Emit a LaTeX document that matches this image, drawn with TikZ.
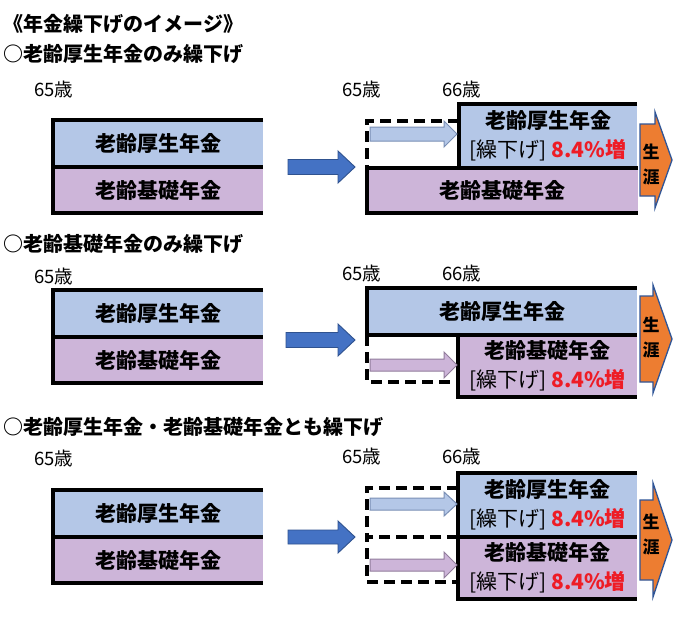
\documentclass[tikz,border=0pt]{standalone}
\usepackage{fontspec}
\setmainfont{Noto Sans CJK JP}
\definecolor{kblue}{HTML}{B4C7E7}
\definecolor{kpurp}{HTML}{CDB5D9}
\definecolor{abody}{HTML}{4472C4}
\definecolor{aedge}{HTML}{2F528F}
\definecolor{oran}{HTML}{ED7D31}
\definecolor{oedge}{HTML}{2F5597}
\definecolor{tbedge}{HTML}{7A8FB5}
\definecolor{tpedge}{HTML}{927D9C}
\definecolor{redt}{HTML}{EE1C25}
\newcommand\ArrowPoly[7]{\draw[#1] (#2,#4-#5) -- (#3-#7,#4-#5) -- (#3-#7,#4-#6) -- (#3,#4) -- (#3-#7,#4+#6) -- (#3-#7,#4+#5) -- (#2,#4+#5) -- cycle;}
\newcommand\Up{{\mdseries\color{black}{[}繰下げ{]}}\hspace{5pt}{\color{redt}8.4\%増}}
\begin{document}
\begin{tikzpicture}[x=1pt,y=-1pt,
  every node/.style={inner sep=0pt, outer sep=0pt},
  boxtext/.style={font=\bfseries\fontsize{21}{29}\selectfont, align=center, anchor=north west},
  kosei/.style={boxtext, fill=kblue},
  kiso/.style={boxtext, fill=kpurp},
  edge/.style={line width=3.2pt, line join=miter},
  dashedge/.style={line width=3.2pt, dash pattern=on 11pt off 6pt},
  heading/.style={font=\bfseries\fontsize{20}{24}\selectfont, anchor=west},
  age/.style={font=\fontsize{18.5}{22}\selectfont, anchor=west},
  bigarr/.style={fill=abody, draw=aedge, line width=0.9pt},
  orarr/.style={fill=oran, draw=oedge, line width=1.3pt},
  thinb/.style={fill=kblue, draw=tbedge, line width=1pt},
  thinp/.style={fill=kpurp, draw=tpedge, line width=1pt},
  life/.style={font=\bfseries\fontsize{17}{25}\selectfont, align=center},
]
\useasboundingbox (0,0) rectangle (680,616);
\fill[white] (0,0) rectangle (680,616);

\node[heading] (title) at (4,24) {《年金繰下げのイメージ》};

% ---------------- Section 1 ----------------
\node[heading] (h1) at (3,54) {○老齢厚生年金のみ繰下げ};
\node[age] (a1l) at (34,89) {65歳};
\node[age] (a1r) at (342,89) {65歳};
\node[age] (b1r) at (442,89) {66歳};

\node[kosei, minimum width=210, minimum height=47] (L1a) at (53,120) {老齢厚生年金};
\node[kiso, minimum width=210, minimum height=46] (L1b) at (53,167) {老齢基礎年金};
\draw[edge] (L1a.north east) -- (L1a.north west) -- (L1b.south west) -- (L1b.south east);
\draw[edge] (L1a.south west) -- (L1a.south east);

\ArrowPoly{bigarr}{288}{355}{167}{7.5}{16}{17}

\node[kosei, minimum width=178, minimum height=64] (R1a) at (459,104) {老齢厚生年金\\\Up};
\node[kiso, minimum width=271, minimum height=45] (R1b) at (367,168) {老齢基礎年金};
\draw[edge] (R1a.north east) -- (R1a.north west) -- (R1a.south west);
\draw[edge] (R1b.north east) -- (R1b.north west) -- (R1b.south west) -- (R1b.south east);
\coordinate (D1) at (367,121);
\draw[dashedge] (R1a.west |- D1) -- (D1) -- (D1 |- R1b.north);
\ArrowPoly{thinb}{370}{457}{134}{7}{13}{13}

\ArrowPoly{orarr}{640}{672}{160}{36}{48}{17}
\node[life] (s1) at (651,165) {生\\涯};

% ---------------- Section 2 ----------------
\node[heading] (h2) at (3,244) {○老齢基礎年金のみ繰下げ};
\node[age] (a2l) at (34,276) {65歳};
\node[age] (a2r) at (342,273) {65歳};
\node[age] (b2r) at (442,273) {66歳};

\node[kosei, minimum width=210, minimum height=47] (L2a) at (53,290) {老齢厚生年金};
\node[kiso, minimum width=210, minimum height=46] (L2b) at (53,337) {老齢基礎年金};
\draw[edge] (L2a.north east) -- (L2a.north west) -- (L2b.south west) -- (L2b.south east);
\draw[edge] (L2a.south west) -- (L2a.south east);

\ArrowPoly{bigarr}{286}{355}{340}{7.5}{16}{17}

\node[kosei, minimum width=270, minimum height=47] (R2a) at (367,288) {老齢厚生年金};
\node[kiso, minimum width=179, minimum height=62] (R2b) at (458,335) {老齢基礎年金\\\Up};
\draw[edge] (R2a.north east) -- (R2a.north west) -- (R2a.south west) -- (R2a.south east);
\draw[edge] (R2b.north west) -- (R2b.south west) -- (R2b.south east);
\coordinate (D2) at (367,382);
\draw[dashedge] (D2 |- R2a.south) -- (D2) -- (R2b.west |- D2);
\ArrowPoly{thinp}{370}{457}{365}{6}{13}{13}

\ArrowPoly{orarr}{640}{672}{339}{43}{54}{19}
\node[life] (s2) at (651,338) {生\\涯};

% ---------------- Section 3 ----------------
\node[heading] (h3) at (3,427) {○老齢厚生年金・老齢基礎年金とも繰下げ};
\node[age] (a3l) at (34,458) {65歳};
\node[age] (a3r) at (342,456) {65歳};
\node[age] (b3r) at (442,456) {66歳};

\node[kosei, minimum width=210, minimum height=47] (L3a) at (53,490) {老齢厚生年金};
\node[kiso, minimum width=210, minimum height=46] (L3b) at (53,537) {老齢基礎年金};
\draw[edge] (L3a.north east) -- (L3a.north west) -- (L3b.south west) -- (L3b.south east);
\draw[edge] (L3a.south west) -- (L3a.south east);

\ArrowPoly{bigarr}{288}{355}{537}{7}{16}{17}

\node[kosei, minimum width=179, minimum height=64] (R3a) at (458,473) {老齢厚生年金\\\Up};
\node[kiso, minimum width=179, minimum height=62] (R3b) at (458,537) {老齢基礎年金\\\Up};
\draw[edge] (R3a.north east) -- (R3a.north west) -- (R3b.south west) -- (R3b.south east);
\draw[edge] (R3a.south west) -- (R3a.south east);
\coordinate (D3) at (367,488);
\coordinate (D4) at (367,537);
\coordinate (D5) at (367,582);
\draw[dashedge] (R3a.west |- D3) -- (D3) -- (D4);
\draw[dashedge] (R3b.west |- D4) -- (D4) -- (D5) -- (R3b.west |- D5);
\ArrowPoly{thinb}{370}{457}{504}{6}{12}{13}
\ArrowPoly{thinp}{370}{457}{565}{6}{13}{13}

\ArrowPoly{orarr}{640}{672}{540}{40}{57}{19}
\node[life] (s3) at (651,535) {生\\涯};
\end{tikzpicture}
\end{document}
